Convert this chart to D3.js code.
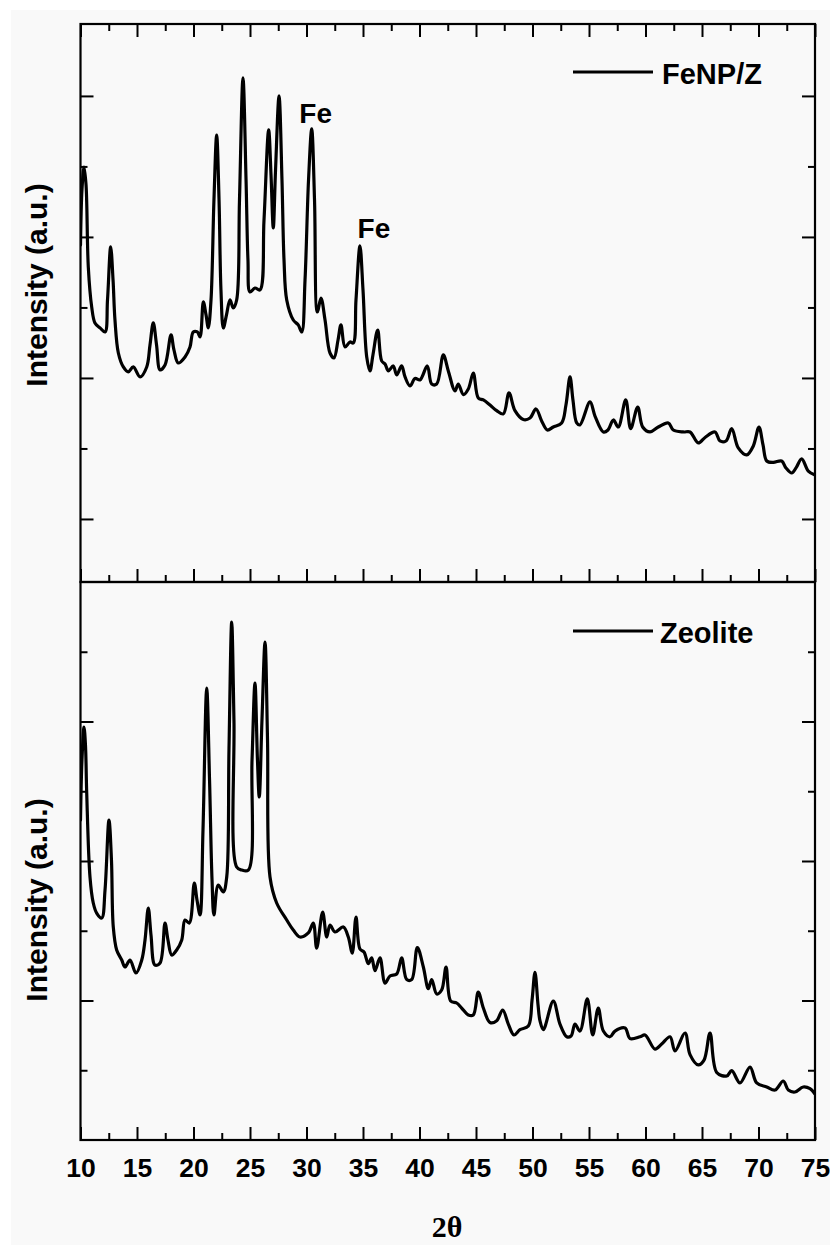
<!DOCTYPE html>
<html><head><meta charset="utf-8">
<script src="https://cdn.jsdelivr.net/npm/d3@7/dist/d3.min.js"></script>
<style>html,body{margin:0;padding:0;background:#fff;} svg{display:block;}</style>
</head><body>
<svg id="chart" width="830" height="1245"></svg>
<script>
// ---------- DATA ----------
const xMajorTicks = [10,15,20,25,30,35,40,45,50,55,60,65,70,75];
const xMinorTicks = [12.5,17.5,22.5,27.5,32.5,37.5,42.5,47.5,52.5,57.5,62.5,67.5,72.5];
const topYMajor = [1000,2000,3000,4000];
const topYMinor = [1500,2500,3500];
const botYMajor = [1000,2000,3000];
const botYMinor = [500,1500,2500,3500];

const seriesNames = ["FeNP/Z", "Zeolite"];
const peakLabels = ["Fe", "Fe"];
const peakLabelTheta = [30.46, 34.73];
const peakLabelIntensity = [3766, 2936];

const topTheta = [10.00,10.13,10.31,10.49,10.69,10.99,11.28,11.73,12.17,12.39,12.67,12.88,13.05,13.35,13.79,14.23,14.67,15.27,15.86,16.15,16.44,16.73,17.04,17.48,18.01,18.27,18.65,19.25,19.69,19.98,20.34,20.58,20.87,21.11,21.31,21.55,21.81,22.05,22.26,22.43,22.64,22.92,23.23,23.52,23.82,24.07,24.38,24.65,24.82,25.00,25.44,25.88,26.24,26.65,26.86,27.06,27.26,27.57,27.83,28.01,28.25,28.83,29.27,29.58,29.87,30.18,30.46,30.71,30.96,31.28,31.64,32.08,32.43,32.79,33.05,33.41,33.85,34.14,34.38,34.73,35.00,35.33,35.62,35.88,36.30,36.65,36.95,37.24,37.68,37.98,38.42,38.72,39.16,39.60,40.04,40.69,41.08,41.52,42.11,42.55,43.14,43.43,43.88,44.32,44.76,45.20,45.65,46.24,46.83,47.42,47.92,48.45,49.19,49.78,50.31,50.81,51.31,51.84,52.58,52.96,53.32,53.58,53.91,54.20,55.09,55.53,56.27,56.68,57.15,57.59,58.25,58.69,59.31,59.75,60.40,61.13,62.02,62.46,63.35,63.94,64.67,65.27,66.15,66.59,67.12,67.63,68.21,68.96,69.54,70.04,70.40,70.73,71.31,72.05,72.43,72.94,73.32,73.82,74.41,75.00];
const topIntensity = [2943,3333,3496,3369,2787,2504,2390,2355,2326,2553,2929,2695,2411,2177,2078,2043,2078,2007,2078,2234,2390,2234,2057,2092,2305,2199,2106,2149,2220,2326,2326,2291,2539,2447,2355,2553,3262,3723,3262,2624,2355,2447,2553,2496,2553,3262,4128,3404,2837,2610,2638,2624,3121,3759,3440,3064,3475,4000,3404,2837,2553,2411,2376,2326,2695,3404,3766,3262,2468,2567,2411,2177,2142,2269,2376,2220,2255,2248,2553,2936,2624,2149,2050,2163,2340,2121,2099,2050,2085,2021,2085,2007,1943,1996,1986,2085,1957,1957,2163,2050,1908,1957,1882,1922,2035,1858,1844,1808,1768,1745,1894,1768,1705,1716,1780,1695,1631,1652,1681,1808,2007,1844,1681,1667,1830,1730,1617,1631,1702,1652,1844,1641,1794,1652,1617,1652,1681,1631,1617,1617,1539,1578,1617,1553,1553,1641,1504,1454,1518,1652,1525,1411,1401,1411,1362,1326,1362,1426,1340,1312];

const botTheta = [10.00,10.13,10.31,10.44,10.55,10.84,11.13,11.43,11.88,12.17,12.52,12.74,12.90,13.20,13.65,13.94,14.38,14.91,15.42,15.71,16.00,16.24,16.59,17.04,17.48,17.74,18.07,18.51,18.96,19.25,19.63,20.07,20.31,20.58,20.84,21.17,21.42,21.64,21.81,22.19,22.64,22.94,23.14,23.38,23.58,23.82,24.27,24.85,25.18,25.44,25.66,25.82,26.06,26.33,26.55,26.77,27.36,28.25,28.83,29.42,30.16,30.60,30.90,31.43,31.79,32.08,32.52,33.26,33.70,34.05,34.38,34.73,35.09,35.47,35.77,36.06,36.50,36.95,37.39,37.98,38.42,38.87,39.31,39.81,40.34,40.78,41.08,41.52,41.96,42.35,42.76,43.29,43.73,44.32,44.76,45.20,45.65,46.24,46.83,47.36,47.86,48.36,48.89,49.63,49.96,50.22,50.49,50.66,50.96,51.84,52.43,53.03,53.41,53.76,54.20,54.85,55.33,55.82,56.27,56.86,57.30,58.19,58.63,59.51,59.96,60.84,61.43,62.17,62.61,63.50,63.94,64.67,65.18,65.71,66.30,67.19,67.63,68.36,69.25,69.84,70.73,71.46,72.19,72.64,73.23,73.96,74.56,75.00];
const botIntensity = [2294,2724,2960,2831,2487,1885,1699,1627,1591,1792,2294,2007,1527,1362,1290,1240,1290,1197,1290,1434,1663,1469,1254,1269,1555,1434,1326,1362,1434,1577,1555,1842,1720,1613,2222,3240,2580,1864,1613,1828,1778,1885,2796,3713,3011,1957,1935,1935,2724,3276,2724,2459,3011,3570,2867,1885,1699,1577,1505,1455,1484,1555,1376,1634,1455,1541,1491,1527,1455,1340,1598,1369,1348,1264,1305,1214,1305,1125,1176,1190,1305,1150,1150,1380,1240,1085,1150,1047,1075,1240,996,982,946,896,896,1061,946,842,855,932,831,753,791,817,1004,1201,968,855,791,996,831,740,745,831,781,1011,753,946,781,740,781,803,727,740,753,652,688,740,638,767,612,538,573,767,484,459,497,409,523,409,380,358,423,358,344,380,368,330];

// ---------- LAYOUT ----------
const svg = d3.select("#chart");
const L = 80.5, R = 815, T = 24, MID = 582, B = 1140;
const font = "'Liberation Sans', Arial, sans-serif";

svg.append("rect").attr("x",0).attr("y",0).attr("width",830).attr("height",1245).attr("fill","#ffffff");
svg.append("rect").attr("x",11).attr("y",10).attr("width",819).attr("height",1235).attr("fill","#f9f9f9");

const x = d3.scaleLinear().domain([10,75]).range([L,R]);
const yTop = d3.scaleLinear().domain([553,4510]).range([MID,T]);
const yBot = d3.scaleLinear().domain([0,4000]).range([B,MID]);

const defs = svg.append("defs");
defs.append("clipPath").attr("id","clipTop").append("rect").attr("x",L).attr("y",T).attr("width",R-L).attr("height",MID-T);
defs.append("clipPath").attr("id","clipBot").append("rect").attr("x",L).attr("y",MID).attr("width",R-L).attr("height",B-MID);

function styleAxis(g, showText){
  g.select(".domain").remove();
  g.selectAll(".tick line").attr("stroke","#000").attr("stroke-width",2);
  if(!showText) g.selectAll(".tick text").remove();
}

// curves
const topData = topTheta.map((t,i)=>[t, topIntensity[i]]);
const botData = botTheta.map((t,i)=>[t, botIntensity[i]]);
const curveType = d3.curveCatmullRom.alpha(0.5);

svg.append("path").datum(topData).attr("clip-path","url(#clipTop)")
  .attr("d", d3.line().x(d=>x(d[0])).y(d=>yTop(d[1])).curve(curveType)).attr("fill","none").attr("stroke","#000")
  .attr("stroke-width",3.2).attr("stroke-linejoin","round").attr("stroke-linecap","round");
svg.append("path").datum(botData).attr("clip-path","url(#clipBot)")
  .attr("d", d3.line().x(d=>x(d[0])).y(d=>yBot(d[1])).curve(curveType)).attr("fill","none").attr("stroke","#000")
  .attr("stroke-width",3.2).attr("stroke-linejoin","round").attr("stroke-linecap","round");

// x axes: top of top panel (ticks down)
svg.append("g").attr("transform",`translate(0,${T})`)
  .call(d3.axisTop(x).tickValues(xMajorTicks).tickSize(-13).tickFormat(""))
  .call(g=>styleAxis(g,false));
svg.append("g").attr("transform",`translate(0,${T})`)
  .call(d3.axisTop(x).tickValues(xMinorTicks).tickSize(-7).tickFormat(""))
  .call(g=>styleAxis(g,false));
// divider: ticks up into top panel
svg.append("g").attr("transform",`translate(0,${MID})`)
  .call(d3.axisBottom(x).tickValues(xMajorTicks).tickSize(-13).tickFormat(""))
  .call(g=>styleAxis(g,false));
svg.append("g").attr("transform",`translate(0,${MID})`)
  .call(d3.axisBottom(x).tickValues(xMinorTicks).tickSize(-7).tickFormat(""))
  .call(g=>styleAxis(g,false));
// bottom axis with labels
const xb = svg.append("g").attr("transform",`translate(0,${B})`)
  .call(d3.axisBottom(x).tickValues(xMajorTicks).tickSize(-13).tickPadding(18.5).tickFormat(d3.format("d")))
  .call(g=>styleAxis(g,true));
xb.selectAll(".tick text").attr("font-family",font).attr("font-weight","bold").attr("font-size",26.5).attr("fill","#000");
svg.append("g").attr("transform",`translate(0,${B})`)
  .call(d3.axisBottom(x).tickValues(xMinorTicks).tickSize(-7).tickFormat(""))
  .call(g=>styleAxis(g,false));

// y axes
function yAxes(scale, major, minor){
  svg.append("g").attr("transform",`translate(${L},0)`).call(d3.axisLeft(scale).tickValues(major).tickSize(-13).tickFormat("")).call(g=>styleAxis(g,false));
  svg.append("g").attr("transform",`translate(${L},0)`).call(d3.axisLeft(scale).tickValues(minor).tickSize(-7).tickFormat("")).call(g=>styleAxis(g,false));
  svg.append("g").attr("transform",`translate(${R},0)`).call(d3.axisRight(scale).tickValues(major).tickSize(-13).tickFormat("")).call(g=>styleAxis(g,false));
  svg.append("g").attr("transform",`translate(${R},0)`).call(d3.axisRight(scale).tickValues(minor).tickSize(-7).tickFormat("")).call(g=>styleAxis(g,false));
}
yAxes(yTop, topYMajor, topYMinor);
yAxes(yBot, botYMajor, botYMinor);

// frames
const frame = svg.append("g").attr("stroke","#000").attr("stroke-width",2.2).attr("fill","none");
frame.append("rect").attr("x",L).attr("y",T).attr("width",R-L).attr("height",MID-T);
frame.append("rect").attr("x",L).attr("y",MID).attr("width",R-L).attr("height",B-MID);

// legends
const legendY = [72, 631];
const legendTextY = [84, 643];
const legendTextX = [662, 660];
seriesNames.forEach((name,i)=>{
  svg.append("line").attr("x1",573).attr("x2",653).attr("y1",legendY[i]).attr("y2",legendY[i])
    .attr("stroke","#000").attr("stroke-width",3);
  svg.append("text").attr("x",legendTextX[i]).attr("y",legendTextY[i]).text(name)
    .attr("font-family",font).attr("font-weight","bold").attr("font-size",29).attr("fill","#000");
});

// Fe labels
const feOffsets = [[4,-6],[14,-8]];
peakLabels.forEach((lab,i)=>{
  svg.append("text").attr("x",x(peakLabelTheta[i])+feOffsets[i][0]).attr("y",yTop(peakLabelIntensity[i])+feOffsets[i][1])
    .attr("text-anchor","middle").text(lab)
    .attr("font-family",font).attr("font-weight","bold").attr("font-size",28).attr("fill","#000");
});

// y labels
[285, 900].forEach(cy=>{
  svg.append("text").attr("transform",`translate(46.5,${cy}) rotate(-90)`).attr("text-anchor","middle")
    .text("Intensity (a.u.)").attr("font-family",font).attr("font-weight","bold").attr("font-size",30).attr("fill","#000");
});

// x label
svg.append("text").attr("x",447).attr("y",1237).attr("text-anchor","middle").text("2θ")
  .attr("font-family","'Liberation Serif', 'Times New Roman', serif").attr("font-weight","bold").attr("font-size",30).attr("fill","#000");
</script>
</body></html>
